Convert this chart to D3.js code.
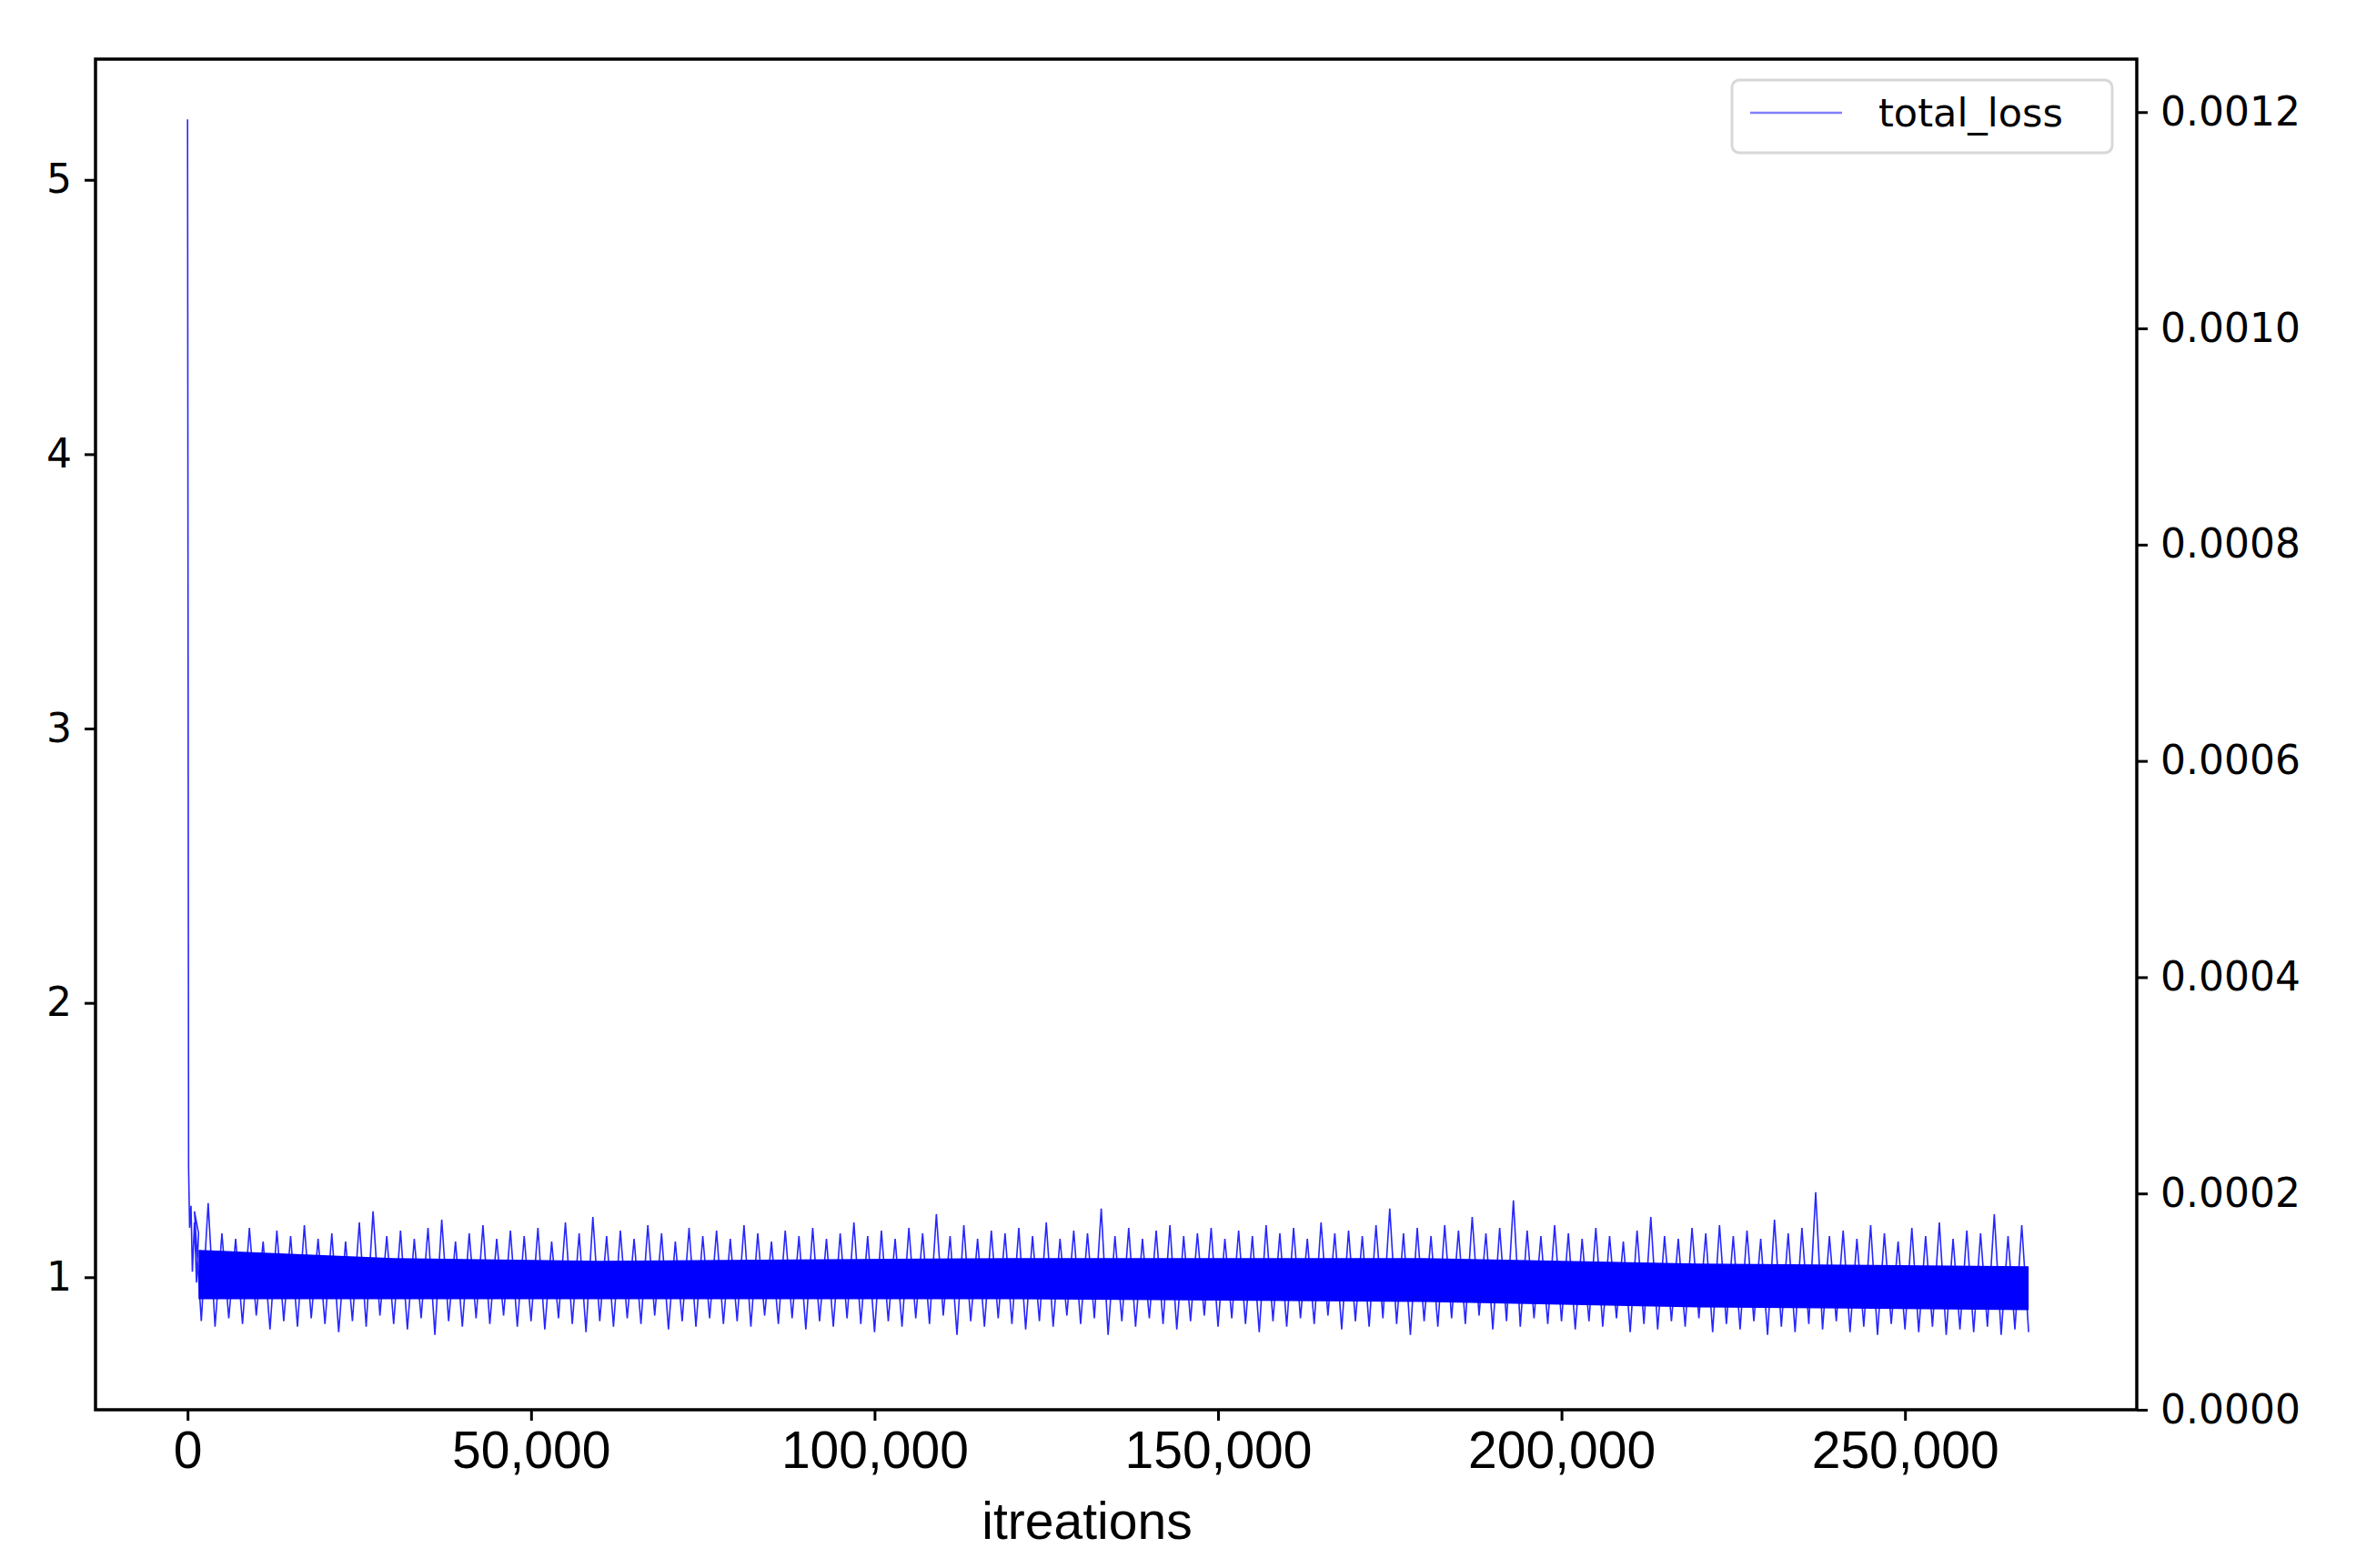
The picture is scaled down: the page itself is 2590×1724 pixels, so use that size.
<!DOCTYPE html>
<html>
<head>
<meta charset="utf-8">
<script src="https://cdn.jsdelivr.net/npm/d3@7"></script>
<style>
  body { margin: 0; background: #fff; }
  .ytick text { font-family: "DejaVu Sans"; font-size: 44px; }
  .xtick text { font-family: "Liberation Sans"; font-size: 57px; }
</style>
</head>
<body>
<svg id="chart" width="2590" height="1724"></svg>
<script>
// warm-up part of the curve
var headX = [0, 150, 300, 500, 700, 1000, 1300, 1600];
var headY = [5.22, 1.40, 1.18, 1.26, 1.02, 1.20, 0.98, 1.16];

// envelope of the noisy band, one pair per 2000 iterations (from 2000 on)
var binStep = 2000;
var hiVals = [
  1.24,1.27,1.16,1.14,1.18,1.13,1.17,1.15,1.19,1.14,
  1.16,1.13,1.20,1.24,1.15,1.17,1.14,1.18,1.21,1.13,
  1.16,1.19,1.14,1.17,1.15,1.18,1.13,1.20,1.16,1.22,
  1.15,1.17,1.14,1.19,1.16,1.13,1.18,1.15,1.17,1.14,
  1.19,1.16,1.13,1.17,1.15,1.18,1.14,1.16,1.20,1.15,
  1.17,1.14,1.18,1.16,1.23,1.15,1.19,1.14,1.17,1.16,
  1.18,1.15,1.20,1.14,1.17,1.16,1.25,1.15,1.18,1.14,
  1.17,1.19,1.15,1.16,1.18,1.14,1.17,1.15,1.19,1.16,
  1.18,1.14,1.20,1.16,1.17,1.15,1.19,1.25,1.16,1.18,
  1.15,1.19,1.17,1.22,1.16,1.18,1.28,1.17,1.15,1.19,
  1.16,1.14,1.18,1.15,1.13,1.17,1.22,1.15,1.14,1.18,
  1.16,1.19,1.15,1.17,1.14,1.21,1.16,1.18,1.31,1.15,
  1.17,1.14,1.19,1.16,1.13,1.18,1.15,1.20,1.14,1.17,
  1.16,1.23,1.15,1.19
];
var loVals = [
  0.84,0.82,0.85,0.83,0.86,0.81,0.84,0.82,0.85,0.83,
  0.80,0.84,0.82,0.86,0.83,0.81,0.85,0.79,0.84,0.82,
  0.85,0.83,0.86,0.82,0.84,0.81,0.85,0.83,0.80,0.84,
  0.82,0.85,0.83,0.86,0.81,0.84,0.82,0.85,0.83,0.84,
  0.82,0.86,0.83,0.85,0.81,0.84,0.82,0.85,0.83,0.80,
  0.84,0.82,0.85,0.83,0.86,0.79,0.84,0.82,0.85,0.83,
  0.81,0.84,0.82,0.86,0.83,0.85,0.79,0.84,0.82,0.85,
  0.83,0.81,0.84,0.86,0.82,0.85,0.83,0.80,0.84,0.82,
  0.85,0.83,0.86,0.81,0.84,0.82,0.85,0.83,0.79,0.84,
  0.82,0.85,0.83,0.86,0.81,0.84,0.82,0.85,0.83,0.84,
  0.81,0.84,0.82,0.85,0.80,0.83,0.81,0.84,0.82,0.85,
  0.80,0.83,0.81,0.84,0.79,0.82,0.80,0.83,0.81,0.84,
  0.80,0.82,0.79,0.83,0.81,0.80,0.82,0.79,0.81,0.80,
  0.82,0.79,0.81,0.80
];
// dense core of the band
var coreX  = [1600, 30000, 60000, 120000, 180000, 220000, 268000];
var coreHi = [1.10, 1.07, 1.06, 1.07, 1.07, 1.05, 1.04];
var coreLo = [0.92, 0.92, 0.92, 0.92, 0.91, 0.89, 0.88];

var xTicks = [0, 50000, 100000, 150000, 200000, 250000];
var yTicks = [1, 2, 3, 4, 5];
var y2Ticks = [0, 0.0002, 0.0004, 0.0006, 0.0008, 0.0010, 0.0012];

var L = 105, R = 2349, T = 65, B = 1550;
var svg = d3.select("#chart");
var x = d3.scaleLinear().domain([-13400, 283740]).range([L, R]);
var y = d3.scaleLinear().domain([0.517, 5.44]).range([B, T]);
var y2 = d3.scaleLinear().domain([0, 0.001249]).range([B, T]);

// build the zigzag trace
var pts = headX.map(function (d, i) { return [d, headY[i]]; });
hiVals.forEach(function (h, i) {
  var xc = binStep * (i + 1);
  pts.push([xc - binStep * 0.5, h]);
  pts.push([xc, loVals[i]]);
});
var coreData = coreX.map(function (d, i) { return [d, coreLo[i], coreHi[i]]; });

svg.append("path")
  .datum(coreData)
  .attr("fill", "#0000ff")
  .attr("d", d3.area().x(function (d) { return x(d[0]); })
    .y0(function (d) { return y(d[1]); }).y1(function (d) { return y(d[2]); }));

svg.append("path")
  .datum(pts)
  .attr("fill", "none")
  .attr("stroke", "#0000ff")
  .attr("stroke-width", 1.6)
  .attr("stroke-opacity", 0.85)
  .attr("d", d3.line().x(function (d) { return x(d[0]); }).y(function (d) { return y(d[1]); }));

// axes
var ax = svg.append("g").attr("class", "xtick").attr("transform", "translate(0," + B + ")")
  .call(d3.axisBottom(x).tickValues(xTicks).tickFormat(d3.format(",")).tickSize(12).tickPadding(12));
var ay = svg.append("g").attr("class", "ytick").attr("transform", "translate(" + L + ",0)")
  .call(d3.axisLeft(y).tickValues(yTicks).tickFormat(d3.format("d")).tickSize(12).tickPadding(14));
var ay2 = svg.append("g").attr("class", "ytick").attr("transform", "translate(" + R + ",0)")
  .call(d3.axisRight(y2).tickValues(y2Ticks).tickFormat(d3.format(".4f")).tickSize(12).tickPadding(14));
[ax, ay, ay2].forEach(function (g) {
  g.select(".domain").remove();
  g.selectAll("line").attr("stroke", "#000").attr("stroke-width", 3);
  g.selectAll("text").attr("fill", "#000");
});

svg.append("rect").attr("x", L).attr("y", T).attr("width", R - L).attr("height", B - T)
  .attr("fill", "none").attr("stroke", "#000").attr("stroke-width", 3.5);

svg.append("text").attr("x", 1195).attr("y", 1692).attr("text-anchor", "middle")
  .style("font-family", "Liberation Sans").style("font-size", "57px").text("itreations");

// legend
var lg = svg.append("g");
lg.append("rect").attr("x", 1904).attr("y", 88).attr("width", 418).attr("height", 80).attr("rx", 8)
  .attr("fill", "#fff").attr("stroke", "#d8d8d8").attr("stroke-width", 3);
lg.append("line").attr("x1", 1924).attr("x2", 2025).attr("y1", 124).attr("y2", 124)
  .attr("stroke", "#8080ff").attr("stroke-width", 2.5);
lg.append("text").attr("x", 2065).attr("y", 139)
  .style("font-family", "DejaVu Sans").style("font-size", "43px").text("total_loss");
</script>
</body>
</html>
